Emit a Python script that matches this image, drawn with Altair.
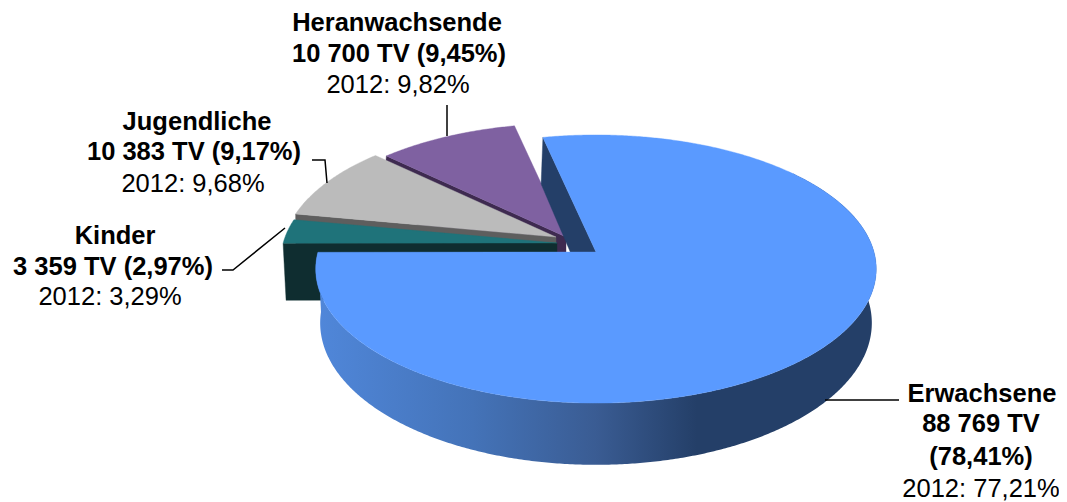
import math
import altair as alt

groups = ["Erwachsene", "Kinder", "Jugendliche", "Heranwachsende"]
shares = [78.41, 2.97, 9.17, 9.45]
face_colors = ["#5A9AFF", "#1F737A", "#BBBBBB", "#7F61A1"]
cut_colors = ["#243F68", "#0F2D30", "#5E5E5E", "#3E2A50"]

label_lines = ["Heranwachsende", "10 700 TV (9,45%)", "2012: 9,82%",
               "Jugendliche", "10 383 TV (9,17%)", "2012: 9,68%",
               "Kinder", "3 359 TV (2,97%)", "2012: 3,29%",
               "Erwachsene", "88 769 TV", "(78,41%)", "2012: 77,21%"]
label_bold = [1, 1, 0, 1, 1, 0, 1, 1, 0, 1, 1, 1, 0]
label_x = [397, 399, 398, 197, 194, 193, 115, 113, 110, 982, 981, 981, 981]
label_y = [31, 62, 93, 130, 160, 192, 244, 275, 305, 402, 432, 465, 497]

leaders = [[(447, 105), (447, 136)],
           [(312, 160), (325, 160), (327, 183)],
           [(222, 270), (233, 270), (285, 228)],
           [(825, 400), (899, 400)]]

START = 102.4
# apex of each slice's upper face, scale; the lower face sits below it
placement = {"Erwachsene": (596, 252, 1.0, 60),
             "Kinder": (557, 243, 0.985, 57),
             "Jugendliche": (556, 237, 0.975, 60),
             "Heranwachsende": (566, 237, 0.97, 60)}


def top(t):
    u, v = math.cos(math.radians(t)), math.sin(math.radians(t))
    d = 1 + 0.127 * v
    return 278 * u / d, -131.9 * v / d


def bottom(t):
    u, v = math.cos(math.radians(t)), math.sin(math.radians(t))
    d = 1 + 0.0775 * v
    return 275 * u / d, -141 * v / d


def arc(fn, a0, a1, ax, ay, s):
    n = max(2, int(abs(a1 - a0) * 2))
    pts = []
    for i in range(n + 1):
        x, y = fn(a0 + (a1 - a0) * i / n)
        pts.append((ax + s * x, ay + s * y))
    return pts


def feature(pts, kind="Polygon"):
    coords = [[p[0] - 8, p[1] - 8] for p in pts]
    if kind == "Polygon":
        coords = [coords + [coords[0]]]
    return {"type": "Feature", "properties": {},
            "geometry": {"type": kind, "coordinates": coords}}


proj = alt.Projection(type="identity", scale=1, translate=[0, 0])


def shape(pts, **mark):
    return alt.Chart(alt.Data(values=[feature(pts)])).mark_geoshape(
        strokeWidth=0.4, **mark).project(**proj.to_dict())


bounds = {}
a = START
for g, s in zip(groups, shares):
    b = a - s * 3.6
    bounds[g] = (a, b)
    a = b

layers = []
# far to near
for g in ["Heranwachsende", "Jugendliche", "Kinder"]:
    i = groups.index(g)
    a0, a1 = bounds[g]
    ax, ay, s, d = placement[g]
    # the cut side towards the viewer
    t_out = arc(top, a0, a0, ax, ay, s)[0]
    b_out = arc(bottom, a0, a0, ax, ay + d, s)[0]
    layers.append(shape([(ax, ay), t_out, b_out, (ax, ay + d)],
                        fill=cut_colors[i], stroke=cut_colors[i]))
    layers.append(shape([(ax, ay)] + arc(top, a0, a1, ax, ay, s),
                        fill=face_colors[i], stroke=face_colors[i]))

i = 0
a0, a1 = bounds["Erwachsene"]
ax, ay, s, d = placement["Erwachsene"]
t_out = arc(top, a0, a0, ax, ay, s)[0]
b_out = arc(bottom, a0, a0, ax, ay + d, s)[0]
layers.append(shape([(ax, ay), t_out, b_out, (ax, ay + d)],
                    fill=cut_colors[0], stroke=cut_colors[0]))
band = arc(top, -180, 40, ax, ay, s) + arc(bottom, 40, -180, ax, ay + d, s)
grad = {"gradient": "linear", "x1": 0, "y1": 0, "x2": 1, "y2": 0,
        "stops": [{"offset": 0, "color": "#5087DA"},
                  {"offset": 0.28, "color": "#4473B8"},
                  {"offset": 0.5, "color": "#3A5C93"},
                  {"offset": 0.68, "color": "#243F68"},
                  {"offset": 1, "color": "#243F68"}]}
layers.append(alt.Chart(alt.Data(values=[feature(band)])).mark_geoshape(
    fill=grad, strokeWidth=0).project(**proj.to_dict()))
layers.append(shape([(ax, ay)] + arc(top, a0, a1, ax, ay, s),
                    fill=face_colors[0], stroke=face_colors[0]))

line_feats = [feature(l, "LineString") for l in leaders]
layers.append(alt.Chart(alt.Data(values=line_feats)).mark_geoshape(
    filled=False, stroke="#000000", strokeWidth=1.5).project(**proj.to_dict()))

rows = [{"t": t, "b": b, "x": x - 8, "y": y - 8}
        for t, b, x, y in zip(label_lines, label_bold, label_x, label_y)]
for flag, weight in [(1, "bold"), (0, "normal")]:
    layers.append(alt.Chart(alt.Data(values=[r for r in rows if r["b"] == flag])).mark_text(
        font="Liberation Sans", fontSize=25.5, fontWeight=weight, color="#000000",
        align="center", baseline="alphabetic").encode(
        x=alt.X("x:Q", scale=None, axis=None),
        y=alt.Y("y:Q", scale=None, axis=None),
        text="t:N"))

chart = alt.layer(*layers).properties(
    width=1051, height=493, padding=0,
    autosize=alt.AutoSizeParams(type="none")
).configure_view(stroke=None)

chart.save("out.html", embed_options={"renderer": "svg", "actions": False})
